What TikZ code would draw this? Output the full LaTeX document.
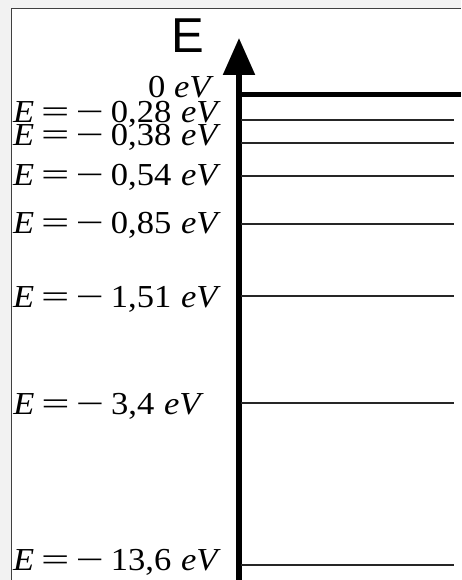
\documentclass[tikz,border=0pt]{standalone}
\usepackage{graphicx}
\usepackage{fontspec}
\setmainfont{Liberation Serif}
\newfontfamily\axsans{Liberation Sans}
\usetikzlibrary{arrows.meta}
\newcommand\wsym[1]{\scalebox{1.45}[1]{#1}}
\newcommand\levlab[1]{\scalebox{1.08}[1]{\textit{E}\hspace{0.2em}\wsym{=}\hspace{0.18em}\wsym{−}\hspace{0.2em}#1\hspace{0.28em}\textit{eV}}}
\newcommand\zerolab{\scalebox{1.08}[1]{0\hspace{0.25em}\textit{eV}}}
\begin{document}
\begin{tikzpicture}[x=1pt,y=-1pt,
  level/.style={line width=1.3pt, draw=black!85},
  lab/.style={anchor=base east, inner sep=0pt, font=\fontsize{32}{32}\selectfont},
]
\useasboundingbox (0,0) rectangle (461,580);
\fill[black!5] (0,0) rectangle (461,580);
\fill[white] (11,9) rectangle (461,580);
\draw[black!75, line width=1pt] (11,580) -- (11,9) -- (461,9);

% axis
\coordinate (axb) at (239,580);
\coordinate (axt) at (239,38);
\draw[line width=5.5pt, -{Triangle[width=31pt,length=37pt]}] (axb) -- (axt);
\node[anchor=base west, inner sep=0pt, font=\axsans\fontsize{49}{49}\selectfont] (Elab) at (171,53) {E};

% ionisation level
\coordinate (z0) at (239,94.5);
\coordinate (z1) at (461,94.5);
\draw[line width=5pt] (z0) -- (z1);
\node[lab] (l0) at (214,98) {\zerolab};

% levels
\foreach \y/\n in {120/a, 143/b, 176/c, 224/d, 296/e, 403/f, 565/g}{
  \coordinate (\n L) at (241,\y);
  \coordinate (\n R) at (454,\y);
  \draw[level] (\n L) -- (\n R);
}
\node[lab] (la) at (221,123) {\levlab{0,28}};
\node[lab] (lb) at (221,146) {\levlab{0,38}};
\node[lab] (lc) at (221,185) {\levlab{0,54}};
\node[lab] (ld) at (221,233) {\levlab{0,85}};
\node[lab] (le) at (221,307) {\levlab{1,51}};
\node[lab] (lf) at (204,414) {\levlab{3,4}};
\node[lab] (lg) at (221,570) {\levlab{13,6}};
\end{tikzpicture}
\end{document}
